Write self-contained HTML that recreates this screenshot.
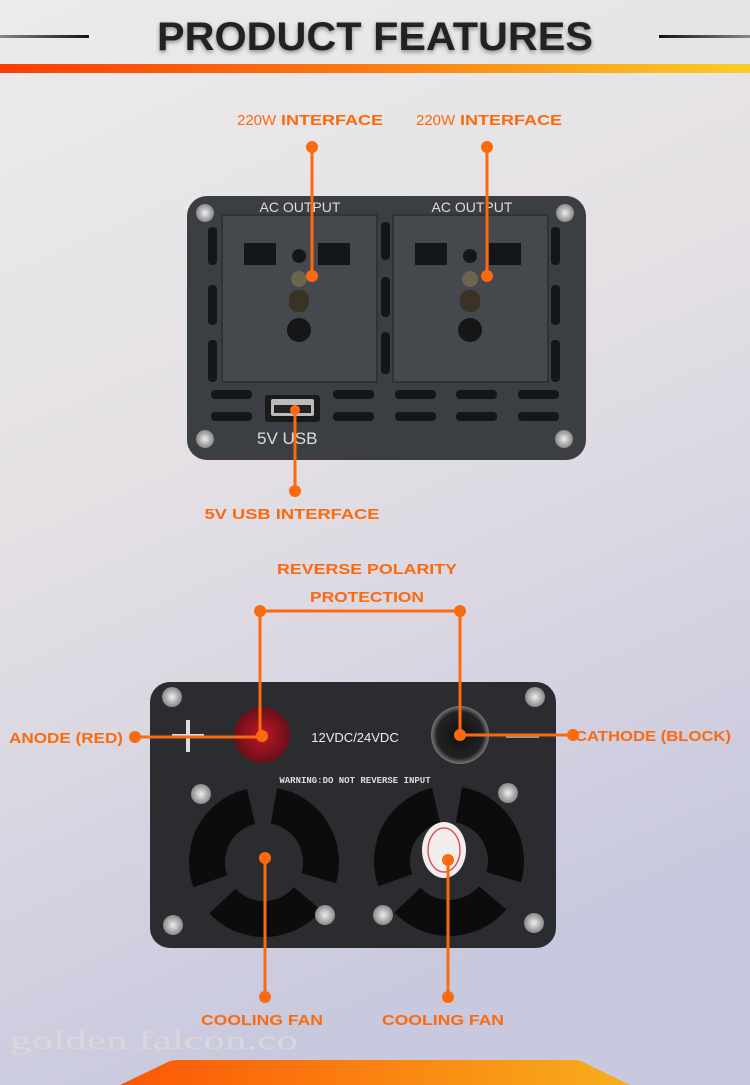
<!DOCTYPE html>
<html><head><meta charset="utf-8"><style>
html,body{margin:0;padding:0;width:750px;height:1085px;overflow:hidden}
svg{display:block}
.o{fill:#fb6a0f;font-family:"Liberation Sans",sans-serif;font-weight:bold}
</style></head><body>
<svg width="750" height="1085" viewBox="0 0 750 1085" xmlns="http://www.w3.org/2000/svg">
<defs>
<linearGradient id="bg" x1="0" y1="0" x2="0.3" y2="1">
<stop offset="0" stop-color="#ecebeb"/><stop offset="0.45" stop-color="#e4e0e4"/><stop offset="0.7" stop-color="#d9d6e2"/><stop offset="1" stop-color="#c8c8de"/>
</linearGradient>
<linearGradient id="bar" x1="0" x2="1"><stop offset="0" stop-color="#fd3d05"/><stop offset="0.5" stop-color="#fb7c12"/><stop offset="1" stop-color="#f9cd25"/></linearGradient>
<linearGradient id="bot" x1="0" x2="1"><stop offset="0" stop-color="#fb5705"/><stop offset="1" stop-color="#f8ae1c"/></linearGradient>
<linearGradient id="ll" x1="0" x2="1"><stop offset="0" stop-color="#888"/><stop offset="1" stop-color="#111"/></linearGradient>
<linearGradient id="lr" x1="0" x2="1"><stop offset="0" stop-color="#111"/><stop offset="1" stop-color="#888"/></linearGradient>
<radialGradient id="red"><stop offset="0" stop-color="#c01828"/><stop offset="1" stop-color="#6a0f18"/></radialGradient>
<radialGradient id="blk"><stop offset="0" stop-color="#111"/><stop offset="0.8" stop-color="#222"/><stop offset="1" stop-color="#777"/></radialGradient>
<radialGradient id="scr"><stop offset="0" stop-color="#eee"/><stop offset="1" stop-color="#888"/></radialGradient>
</defs>
<rect width="750" height="1085" fill="url(#bg)"/>
<!-- header -->
<rect x="0" y="35" width="89" height="3" fill="url(#ll)"/>
<rect x="659" y="35" width="91" height="3" fill="url(#lr)"/>
<text x="375" y="50" text-anchor="middle" font-family="Liberation Sans,sans-serif" font-weight="bold" font-size="40" fill="#222" textLength="436" lengthAdjust="spacingAndGlyphs" style="filter:drop-shadow(0 2px 2px rgba(0,0,0,.4))">PRODUCT FEATURES</text>
<rect x="0" y="64" width="750" height="9" fill="url(#bar)"/>
<!-- top labels -->
<text class="o" x="237" y="125" font-size="15" font-weight="normal" style="font-weight:normal">220W</text>
<text class="o" x="281" y="125" font-size="15" textLength="102" lengthAdjust="spacingAndGlyphs">INTERFACE</text>
<text class="o" x="416" y="125" font-size="15" style="font-weight:normal">220W</text>
<text class="o" x="460" y="125" font-size="15" textLength="102" lengthAdjust="spacingAndGlyphs">INTERFACE</text>
<!-- top device -->
<rect x="187" y="196" width="399" height="264" rx="20" fill="#3b3e43"/>
<rect x="222" y="215" width="155" height="167" fill="#45484d" stroke="#2f3236" stroke-width="2"/>
<rect x="393" y="215" width="155" height="167" fill="#45484d" stroke="#2f3236" stroke-width="2"/>
<text x="300" y="212" text-anchor="middle" font-family="Liberation Sans,sans-serif" font-size="14" fill="#ddd">AC OUTPUT</text>
<text x="472" y="212" text-anchor="middle" font-family="Liberation Sans,sans-serif" font-size="14" fill="#ddd">AC OUTPUT</text>
<g fill="#151618">
<rect x="208" y="227" width="9" height="38" rx="4"/><rect x="208" y="285" width="9" height="40" rx="4"/><rect x="208" y="340" width="9" height="42" rx="4"/>
<rect x="381" y="222" width="9" height="38" rx="4"/><rect x="381" y="277" width="9" height="40" rx="4"/><rect x="381" y="332" width="9" height="42" rx="4"/>
<rect x="551" y="227" width="9" height="38" rx="4"/><rect x="551" y="285" width="9" height="40" rx="4"/><rect x="551" y="340" width="9" height="42" rx="4"/>
<rect x="211" y="390" width="41" height="9" rx="4"/><rect x="333" y="390" width="41" height="9" rx="4"/><rect x="395" y="390" width="41" height="9" rx="4"/><rect x="456" y="390" width="41" height="9" rx="4"/><rect x="518" y="390" width="41" height="9" rx="4"/>
<rect x="211" y="412" width="41" height="9" rx="4"/><rect x="333" y="412" width="41" height="9" rx="4"/><rect x="395" y="412" width="41" height="9" rx="4"/><rect x="456" y="412" width="41" height="9" rx="4"/><rect x="518" y="412" width="41" height="9" rx="4"/>
<!-- sockets -->
<rect x="244" y="243" width="32" height="22"/><rect x="318" y="243" width="32" height="22"/><circle cx="299" cy="256" r="7"/><circle cx="299" cy="279" r="8" fill="#6d6450"/><rect x="289" y="290" width="20" height="22" rx="9" fill="#3a3224"/><circle cx="299" cy="330" r="12"/>
<rect x="415" y="243" width="32" height="22"/><rect x="489" y="243" width="32" height="22"/><circle cx="470" cy="256" r="7"/><circle cx="470" cy="279" r="8" fill="#6d6450"/><rect x="460" y="290" width="20" height="22" rx="9" fill="#3a3224"/><circle cx="470" cy="330" r="12"/>
</g>
<rect x="265" y="395" width="55" height="27" rx="3" fill="#1a1a1a"/>
<rect x="271" y="399" width="43" height="17" rx="2" fill="#bbb"/>
<rect x="274" y="405" width="37" height="8" fill="#222"/>
<text x="257" y="444" font-family="Liberation Sans,sans-serif" font-size="17" fill="#ddd">5V USB</text>
<g fill="url(#scr)"><circle cx="205" cy="213" r="9"/><circle cx="565" cy="213" r="9"/><circle cx="205" cy="439" r="9"/><circle cx="564" cy="439" r="9"/></g>
<!-- top connectors -->
<g stroke="#fb6a0f" stroke-width="3" fill="none"><line x1="312" y1="147" x2="312" y2="276"/><line x1="487" y1="147" x2="487" y2="276"/><line x1="295" y1="410" x2="295" y2="491"/></g>
<g fill="#fb6a0f"><circle cx="312" cy="147" r="6"/><circle cx="312" cy="276" r="6"/><circle cx="487" cy="147" r="6"/><circle cx="487" cy="276" r="6"/><circle cx="295" cy="491" r="6"/><circle cx="295" cy="410" r="5"/></g>
<text class="o" x="292" y="519" text-anchor="middle" font-size="15" textLength="175" lengthAdjust="spacingAndGlyphs">5V USB INTERFACE</text>
<!-- bottom labels -->
<text class="o" x="367" y="574" text-anchor="middle" font-size="15" textLength="180" lengthAdjust="spacingAndGlyphs">REVERSE POLARITY</text>
<text class="o" x="367" y="602" text-anchor="middle" font-size="15" textLength="114" lengthAdjust="spacingAndGlyphs">PROTECTION</text>
<!-- bottom device -->
<rect x="150" y="682" width="406" height="266" rx="20" fill="#2a2c30"/>
<circle cx="262" cy="735" r="28" fill="url(#red)"/>
<circle cx="460" cy="735" r="29" fill="url(#blk)"/>
<rect x="172" y="734" width="32" height="4" fill="#ddd"/><rect x="186" y="720" width="4" height="32" fill="#ddd"/>
<rect x="506" y="735" width="33" height="3" fill="#999"/>
<text x="355" y="742" text-anchor="middle" font-family="Liberation Sans,sans-serif" font-size="13" fill="#eee">12VDC/24VDC</text>
<text x="355" y="783" text-anchor="middle" font-family="Liberation Mono,monospace" font-weight="bold" font-size="9" fill="#ddd">WARNING:DO NOT REVERSE INPUT</text>
<circle cx="264" cy="862" r="57" fill="none" stroke="#0c0c0d" stroke-width="36" stroke-dasharray="96 23.4" transform="rotate(-80 264 862)"/>
<circle cx="449" cy="861" r="57" fill="none" stroke="#0c0c0d" stroke-width="36" stroke-dasharray="96 23.4" transform="rotate(-80 449 861)"/>
<ellipse cx="444" cy="850" rx="22" ry="28" fill="#f2eeee"/>
<ellipse cx="444" cy="850" rx="16" ry="22" fill="none" stroke="#d55" stroke-width="1.5"/>
<g fill="url(#scr)"><circle cx="172" cy="697" r="10"/><circle cx="535" cy="697" r="10"/><circle cx="173" cy="925" r="10"/><circle cx="534" cy="923" r="10"/><circle cx="201" cy="794" r="10"/><circle cx="508" cy="793" r="10"/><circle cx="325" cy="915" r="10"/><circle cx="383" cy="915" r="10"/></g>
<!-- bottom connectors -->
<g stroke="#fb6a0f" stroke-width="3" fill="none">
<polyline points="260,735 260,611 460,611 460,735"/>
<line x1="135" y1="737" x2="262" y2="737"/><line x1="460" y1="735" x2="573" y2="735"/>
<line x1="265" y1="858" x2="265" y2="997"/><line x1="448" y1="860" x2="448" y2="997"/>
</g>
<g fill="#fb6a0f"><circle cx="260" cy="611" r="6"/><circle cx="460" cy="611" r="6"/><circle cx="262" cy="736" r="6"/><circle cx="460" cy="735" r="6"/><circle cx="135" cy="737" r="6"/><circle cx="573" cy="735" r="6"/><circle cx="265" cy="858" r="6"/><circle cx="448" cy="860" r="6"/><circle cx="265" cy="997" r="6"/><circle cx="448" cy="997" r="6"/></g>
<text class="o" x="9" y="743" font-size="15" textLength="114" lengthAdjust="spacingAndGlyphs">ANODE (RED)</text>
<text class="o" x="575" y="741" font-size="15" textLength="156" lengthAdjust="spacingAndGlyphs">CATHODE (BLOCK)</text>
<text class="o" x="262" y="1025" text-anchor="middle" font-size="15" textLength="122" lengthAdjust="spacingAndGlyphs">COOLING FAN</text>
<text class="o" x="443" y="1025" text-anchor="middle" font-size="15" textLength="122" lengthAdjust="spacingAndGlyphs">COOLING FAN</text>
<text x="10" y="1049" font-family="Liberation Serif,serif" font-size="26" fill="#dcdad8" opacity="0.85" textLength="288" lengthAdjust="spacingAndGlyphs">golden falcon.co</text>
<path d="M120 1085 L170 1061 Q175 1060 180 1060 L575 1060 Q580 1060 585 1063 L630 1085 Z" fill="url(#bot)"/>
</svg>
</body></html>
